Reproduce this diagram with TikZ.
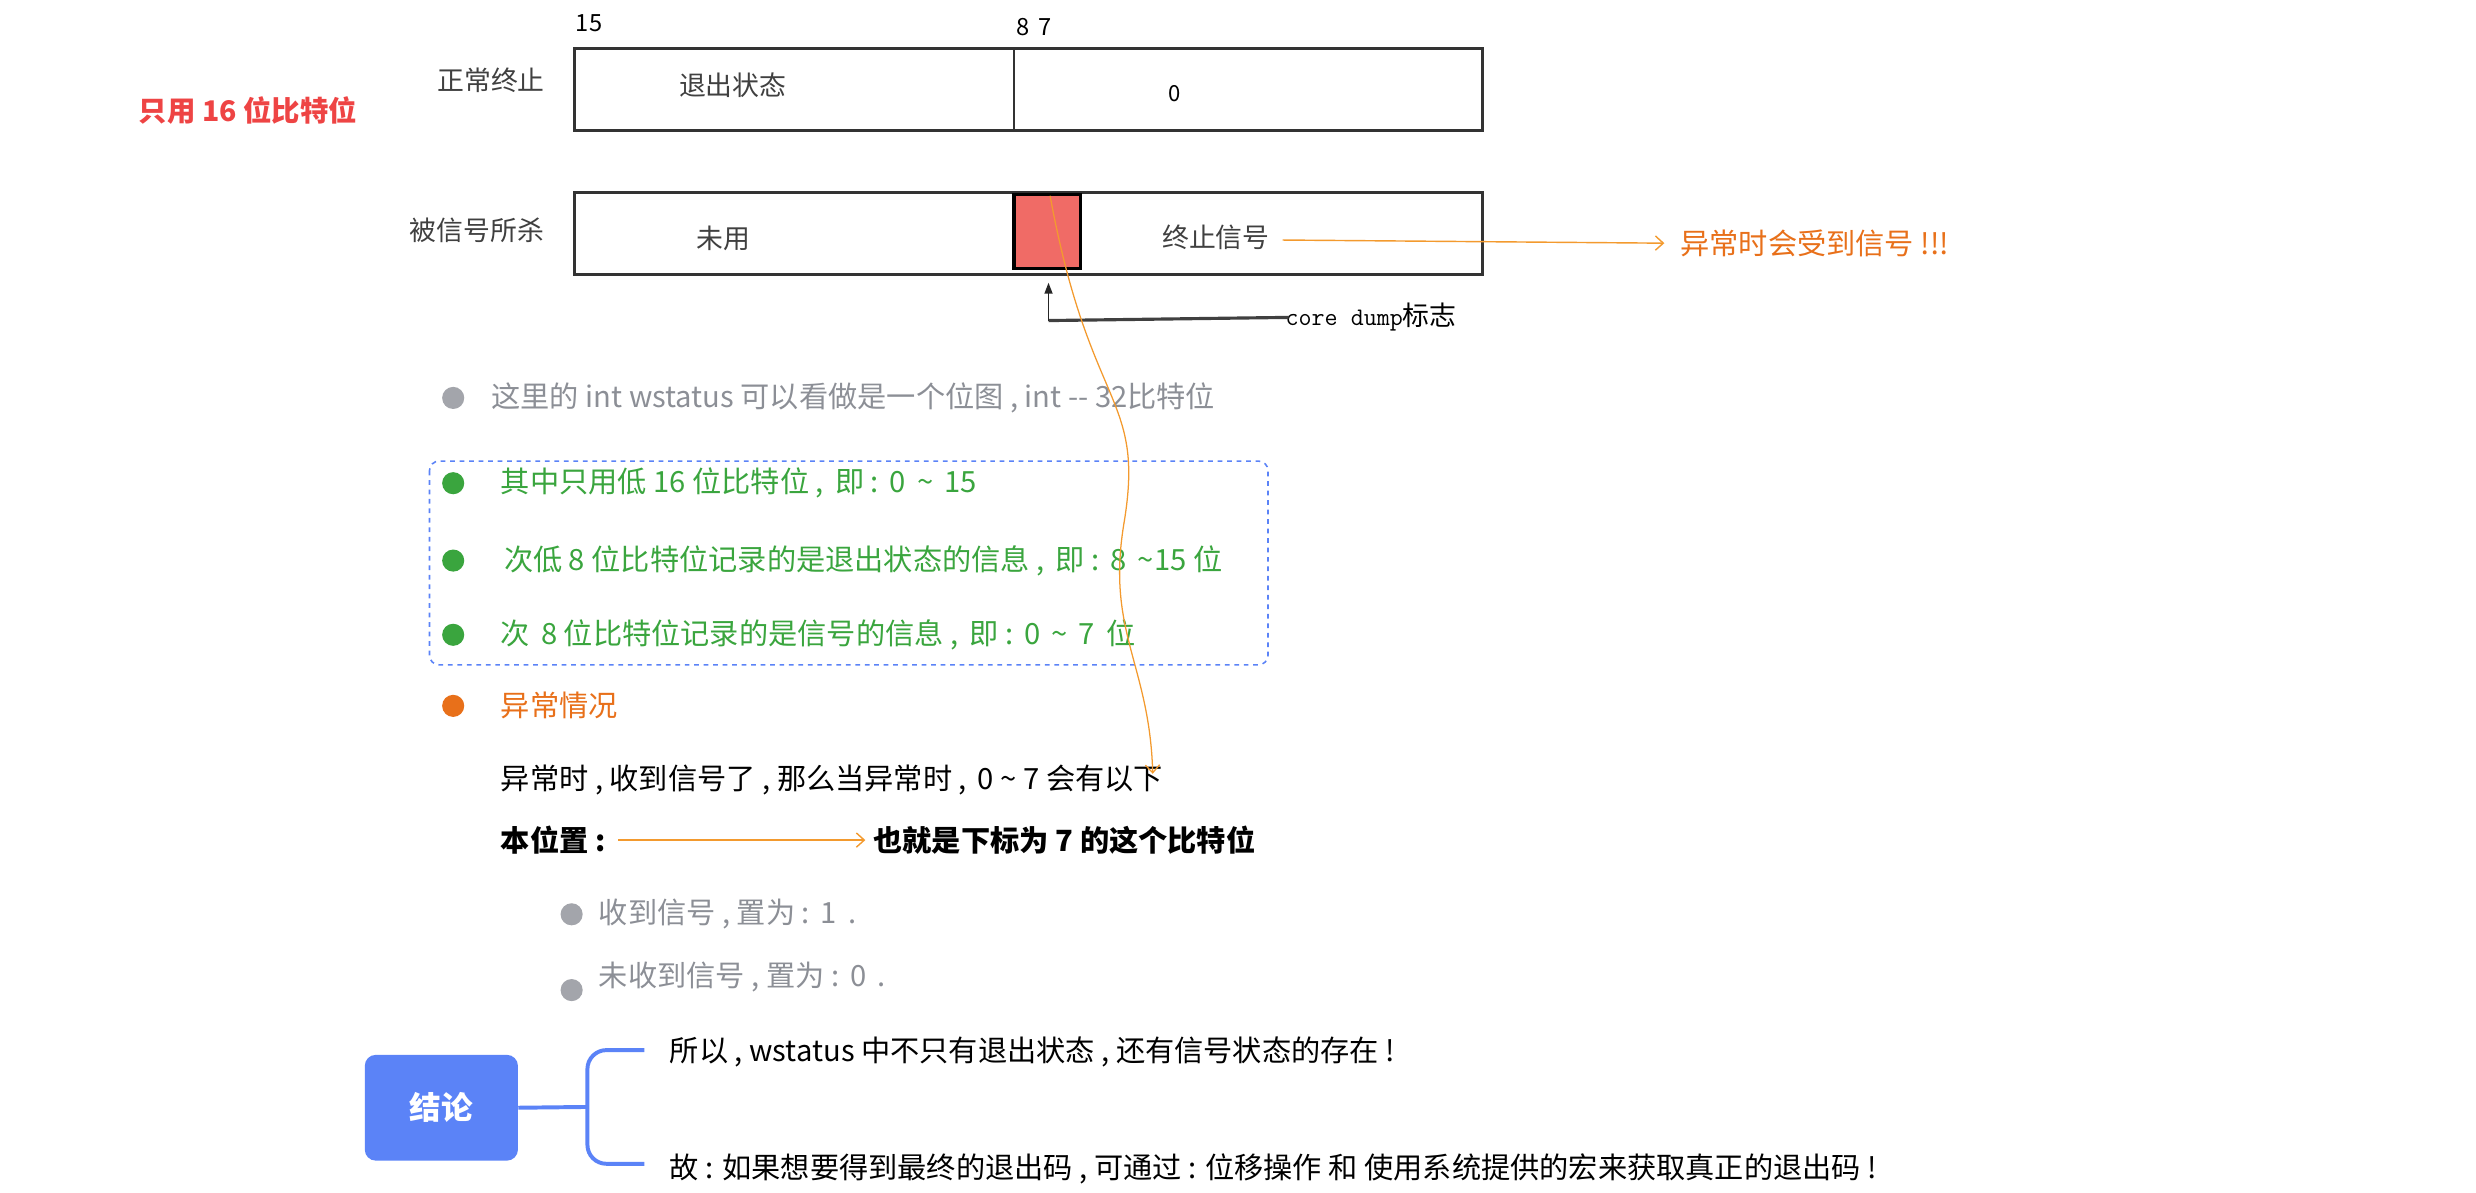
\documentclass[tikz,border=0pt]{standalone}
\usepackage{fontspec}
\setmainfont{Noto Sans CJK SC}
\usetikzlibrary{arrows.meta}
\definecolor{gtxt}{HTML}{8C8F96}
\definecolor{grn}{HTML}{3AA53E}
\definecolor{org}{HTML}{F39A2E}
\definecolor{orgt}{HTML}{E8701A}
\definecolor{redt}{HTML}{EE4444}
\definecolor{blu}{HTML}{5B83F7}
\definecolor{cell}{HTML}{F06B66}
\newcommand\tl{\textasciitilde}
\newcommand\gp{\hspace{7pt}}
\tikzset{x=1pt,y=-1pt,
 lbl/.style={anchor=west,inner sep=0pt,font=\fontsize{18.5}{22}\selectfont},
 blbl/.style={anchor=west,inner sep=0pt,font=\bfseries\fontsize{18.5}{22}\selectfont},
 old/.style={inner sep=0pt,font=\fontsize{17}{20}\selectfont\color{black!75}},
 dot/.style={circle,fill=#1,minimum size=14pt,inner sep=0pt},
 regbox/.style={draw=black!80,line width=1.6pt,inner sep=0pt},
 oarr/.style={draw=org,line width=0.9pt,-{Straight Barb[length=5pt,width=9pt]}}}
\begin{document}
\begin{tikzpicture}
\useasboundingbox (0,0) rectangle (1568,755);
% register boxes
\node[regbox,minimum width=575pt,minimum height=52pt,anchor=north west] (b1) at (363,30) {};
\draw[black!80,line width=1.2pt] (642,30) -- (642,82);
\node[regbox,minimum width=575pt,minimum height=52pt,anchor=north west] (b2) at (363,121) {};
\node[draw=black,fill=cell,line width=2.2pt,minimum width=42pt,minimum height=47pt,anchor=north west,inner sep=0pt] (rc) at (641,122) {};
\node[old,font=\fontsize{15}{16}\selectfont] (n15) at (373,15) {15};
\node[old,font=\fontsize{15}{16}\selectfont] (n8) at (648,17) {8};
\node[old,font=\fontsize{15}{16}\selectfont] (n7) at (662,17) {7};
\node[old] (t1) at (311,51) {正常终止};
\node[old] (t2) at (464,54) {退出状态};
\node[old,font=\fontsize{14}{16}\selectfont] (t3) at (744,59) {0};
\node[old] (t4) at (302,146) {被信号所杀};
\node[old] (t5) at (458,151) {未用};
\node[old] (t6) at (770,150) {终止信号};
\node[inner sep=0pt,font=\bfseries\fontsize{18}{20}\selectfont,text=redt] (red) at (157,70) {只用 16 位比特位};
% core dump
\node[old,anchor=west,font=\ttfamily\fontsize{16}{18}\selectfont] (cd) at (814,201) {core dump\textrm{\fontsize{17}{20}\selectfont 标志}};
\coordinate (cdc) at (664,203);
\coordinate (cdt) at (664,179);
\draw[black!75,line width=2pt] ([xshift=2pt]cd.west) -- (cdc);
\draw[black!85,line width=1.2pt,-{Triangle[length=7pt,width=5pt]}] (cdc) -- (cdt);
% orange note
\node[lbl,text=orgt] (note) at (1064,154) {异常时会受到信号 !!!};
\draw[oarr] ([xshift=8pt,yshift=-2pt]t6.east) -- ([xshift=-10pt]note.west);
% bullets
\node[dot=gtxt!80] (d1) at (287,252) {};
\node[lbl,text=gtxt] (l1) at (311,252) {这里的 int wstatus 可以看做是一个位图 , int -{}- 32比特位};
\draw[blu,dashed,line width=1pt,rounded corners=6pt] (272,292) rectangle (803,421);
\node[dot=grn] (d2) at (287,306) {};
\node[lbl,text=grn] (l2) at (317,306) {其中只用低 16 位比特位 ,\gp 即 :\gp 0\gp \tl{}\gp 15};
\node[dot=grn] (d3) at (287,355) {};
\node[lbl,text=grn] (l3) at (319,355) {次低 8 位比特位记录的是退出状态的信息 ,\gp 即 :\gp 8\gp \tl{}15 位};
\node[dot=grn] (d4) at (287,402) {};
\node[lbl,text=grn] (l4) at (317,402) {次\gp 8 位比特位记录的是信号的信息 ,\gp 即 :\gp 0\gp \tl{}\gp 7\gp 位};
\node[dot=orgt] (d5) at (287,447) {};
\node[lbl,text=orgt] (l5) at (317,447) {异常情况};
\node[lbl] (l6) at (317,494) {异常时 , 收到信号了 , 那么当异常时 ,\gp 0 \tl{} 7 会有以下};
\node[blbl] (l7) at (317,532) {本位置 :};
\node[blbl] (l8) at (553,532) {也就是下标为 7 的这个比特位};
\draw[oarr] ([xshift=8pt]l7.east) -- ([xshift=-5pt]l8.west);
\node[dot=gtxt!80] (d6) at (362,579) {};
\node[lbl,text=gtxt] (l9) at (379,579) {收到信号 , 置为 :\gp 1\gp .};
\node[dot=gtxt!80] (d7) at (362,627) {};
\node[lbl,text=gtxt] (l10) at (379,619) {未收到信号 , 置为 :\gp 0\gp .};
% curve
\coordinate (ce) at (730,490);
\draw[oarr,line width=0.8pt] (665,124) .. controls (690,260) and (725,250) .. (712,330) .. controls (700,400) and (728,420) .. (ce);
% conclusion
\node[fill=blu,rounded corners=7pt,minimum width=97pt,minimum height=67pt,text=white,font=\bfseries\fontsize{20}{24}\selectfont] (jl) at (279.5,701.5) {结论};
\node[lbl] (c1) at (424,666) {所以 , wstatus 中不只有退出状态 , 还有信号状态的存在 !};
\node[lbl] (c2) at (424,740) {故 : 如果想要得到最终的退出码 , 可通过 : 位移操作 和 使用系统提供的宏来获取真正的退出码 !};
\draw[blu,line width=2.5pt] (jl.east) -- (372,701);
\draw[blu,line width=2.5pt,rounded corners=12pt] (408,665) -- (372,665) -- (372,737) -- (408,737);
\end{tikzpicture}
\end{document}
